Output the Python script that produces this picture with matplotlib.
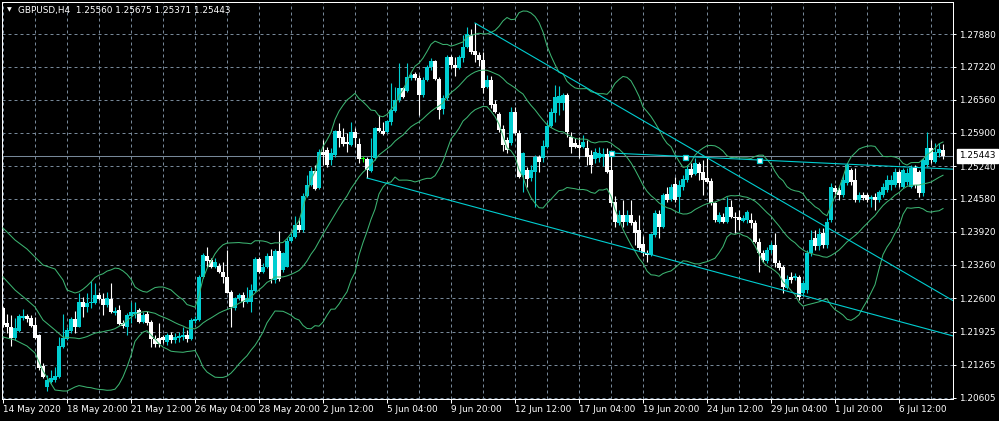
import numpy as np
import pandas as pd
import matplotlib
matplotlib.use('Agg')
import matplotlib.pyplot as plt
import matplotlib.transforms as mtransforms

# GBPUSD H4 candles, oldest first
opens = [
    1.2240, 1.2210, 1.2202, 1.2180, 1.2194, 1.2220, 1.2224, 1.2220, 1.2206, 1.2186,
    1.2124, 1.2082, 1.2092, 1.2096, 1.2102, 1.2162, 1.2178, 1.2194, 1.2218, 1.2202,
    1.2252, 1.2242, 1.2250, 1.2250, 1.2266, 1.2258, 1.2246, 1.2258, 1.2230, 1.2236,
    1.2210, 1.2202, 1.2224, 1.2228, 1.2236, 1.2212, 1.2228, 1.2212, 1.2178, 1.2180,
    1.2182, 1.2172, 1.2186, 1.2176, 1.2180, 1.2182, 1.2186, 1.2178, 1.2214, 1.2216,
    1.2302, 1.2344, 1.2336, 1.2322, 1.2324, 1.2312, 1.2302, 1.2272, 1.2240, 1.2260,
    1.2266, 1.2252, 1.2252, 1.2274, 1.2338, 1.2312, 1.2322, 1.2344, 1.2296, 1.2354,
    1.2316, 1.2322, 1.2374, 1.2382, 1.2406, 1.2396, 1.2464, 1.2486, 1.2514, 1.2480,
    1.2552, 1.2556, 1.2536, 1.2546, 1.2594, 1.2582, 1.2572, 1.2566, 1.2592, 1.2568,
    1.2538, 1.2538, 1.2514, 1.2540, 1.2600, 1.2594, 1.2592, 1.2612, 1.2634, 1.2656,
    1.2680, 1.2674, 1.2700, 1.2708, 1.2700, 1.2666, 1.2696, 1.2722, 1.2734, 1.2698,
    1.2638, 1.2660, 1.2742, 1.2726, 1.2720, 1.2740, 1.2762, 1.2786, 1.2754, 1.2746,
    1.2736, 1.2682, 1.2696, 1.2648, 1.2628, 1.2598, 1.2576, 1.2570, 1.2632, 1.2590,
    1.2506, 1.2516, 1.2500, 1.2512, 1.2542, 1.2540, 1.2562, 1.2604, 1.2630, 1.2650,
    1.2650, 1.2666, 1.2582, 1.2570, 1.2566, 1.2562, 1.2560, 1.2546, 1.2538, 1.2540,
    1.2542, 1.2548, 1.2516, 1.2452, 1.2410, 1.2426, 1.2412, 1.2426, 1.2412, 1.2396,
    1.2368, 1.2350, 1.2346, 1.2386, 1.2428, 1.2402, 1.2468, 1.2458, 1.2488, 1.2462,
    1.2482, 1.2496, 1.2518, 1.2508, 1.2528, 1.2512, 1.2500, 1.2494, 1.2450, 1.2412,
    1.2422, 1.2412, 1.2442, 1.2422, 1.2422, 1.2414, 1.2416, 1.2416, 1.2410, 1.2372,
    1.2350, 1.2334, 1.2356, 1.2366, 1.2330, 1.2322, 1.2280, 1.2302, 1.2300, 1.2302,
    1.2270, 1.2276, 1.2350, 1.2380, 1.2364, 1.2390, 1.2366, 1.2416, 1.2480, 1.2476,
    1.2466, 1.2490, 1.2516, 1.2496, 1.2456, 1.2466, 1.2466, 1.2458, 1.2462, 1.2456,
    1.2466, 1.2476, 1.2486, 1.2486, 1.2512, 1.2482, 1.2492, 1.2482, 1.2520, 1.2512,
    1.2470, 1.2526, 1.2560, 1.2532, 1.2550, 1.25560,
]
highs = [
    1.2242, 1.2228, 1.2226, 1.2220, 1.2228, 1.2238, 1.2228, 1.2226, 1.2222, 1.2188,
    1.2130, 1.2106, 1.2116, 1.2122, 1.2182, 1.2228, 1.2202, 1.2222, 1.2234, 1.2270,
    1.2262, 1.2270, 1.2294, 1.2290, 1.2272, 1.2270, 1.2272, 1.2290, 1.2242, 1.2246,
    1.2216, 1.2230, 1.2252, 1.2252, 1.2240, 1.2232, 1.2234, 1.2216, 1.2186, 1.2210,
    1.2186, 1.2190, 1.2192, 1.2190, 1.2192, 1.2202, 1.2196, 1.2220, 1.2224, 1.2306,
    1.2350, 1.2362, 1.2340, 1.2340, 1.2330, 1.2332, 1.2356, 1.2276, 1.2262, 1.2270,
    1.2272, 1.2282, 1.2288, 1.2342, 1.2342, 1.2330, 1.2350, 1.2358, 1.2358, 1.2394,
    1.2352, 1.2380, 1.2390, 1.2424, 1.2420, 1.2470, 1.2506, 1.2522, 1.2526, 1.2558,
    1.2576, 1.2562, 1.2560, 1.2596, 1.2610, 1.2600, 1.2590, 1.2612, 1.2600, 1.2580,
    1.2544, 1.2542, 1.2580, 1.2602, 1.2626, 1.2612, 1.2616, 1.2690, 1.2682, 1.2730,
    1.2682, 1.2730, 1.2710, 1.2712, 1.2706, 1.2702, 1.2726, 1.2740, 1.2736, 1.2702,
    1.2666, 1.2746, 1.2746, 1.2742, 1.2746, 1.2786, 1.2802, 1.2798, 1.2810, 1.2752,
    1.2752, 1.2706, 1.2704, 1.2656, 1.2632, 1.2606, 1.2582, 1.2642, 1.2642, 1.2596,
    1.2552, 1.2522, 1.2526, 1.2546, 1.2546, 1.2576, 1.2612, 1.2640, 1.2686, 1.2684,
    1.2670, 1.2670, 1.2592, 1.2580, 1.2582, 1.2586, 1.2576, 1.2556, 1.2560, 1.2562,
    1.2560, 1.2560, 1.2550, 1.2464, 1.2436, 1.2456, 1.2436, 1.2456, 1.2416, 1.2426,
    1.2384, 1.2356, 1.2390, 1.2436, 1.2436, 1.2470, 1.2482, 1.2488, 1.2502, 1.2496,
    1.2506, 1.2526, 1.2530, 1.2540, 1.2532, 1.2536, 1.2540, 1.2500, 1.2452, 1.2432,
    1.2430, 1.2462, 1.2456, 1.2432, 1.2436, 1.2426, 1.2436, 1.2430, 1.2416, 1.2380,
    1.2356, 1.2362, 1.2372, 1.2390, 1.2336, 1.2326, 1.2306, 1.2312, 1.2310, 1.2306,
    1.2296, 1.2356, 1.2396, 1.2396, 1.2400, 1.2400, 1.2420, 1.2490, 1.2486, 1.2482,
    1.2506, 1.2530, 1.2520, 1.2520, 1.2472, 1.2472, 1.2470, 1.2466, 1.2470, 1.2476,
    1.2490, 1.2506, 1.2506, 1.2520, 1.2516, 1.2520, 1.2520, 1.2526, 1.2526, 1.2516,
    1.2540, 1.2592, 1.2576, 1.2570, 1.2570, 1.25675,
]
lows = [
    1.2202, 1.2190, 1.2164, 1.2176, 1.2192, 1.2216, 1.2212, 1.2202, 1.2178, 1.2116,
    1.2100, 1.2074, 1.2090, 1.2092, 1.2100, 1.2160, 1.2176, 1.2190, 1.2190, 1.2202,
    1.2222, 1.2232, 1.2240, 1.2248, 1.2256, 1.2226, 1.2242, 1.2230, 1.2226, 1.2206,
    1.2200, 1.2186, 1.2210, 1.2220, 1.2210, 1.2210, 1.2206, 1.2162, 1.2162, 1.2162,
    1.2170, 1.2166, 1.2170, 1.2170, 1.2172, 1.2176, 1.2172, 1.2176, 1.2210, 1.2214,
    1.2300, 1.2322, 1.2320, 1.2320, 1.2310, 1.2290, 1.2270, 1.2202, 1.2236, 1.2256,
    1.2242, 1.2250, 1.2232, 1.2272, 1.2310, 1.2310, 1.2320, 1.2290, 1.2290, 1.2294,
    1.2312, 1.2322, 1.2372, 1.2380, 1.2392, 1.2392, 1.2462, 1.2484, 1.2476, 1.2478,
    1.2526, 1.2522, 1.2526, 1.2542, 1.2562, 1.2564, 1.2552, 1.2564, 1.2562, 1.2530,
    1.2532, 1.2500, 1.2512, 1.2536, 1.2592, 1.2586, 1.2590, 1.2606, 1.2632, 1.2652,
    1.2660, 1.2672, 1.2696, 1.2696, 1.2626, 1.2662, 1.2694, 1.2716, 1.2696, 1.2618,
    1.2628, 1.2656, 1.2720, 1.2704, 1.2718, 1.2732, 1.2760, 1.2748, 1.2732, 1.2724,
    1.2670, 1.2680, 1.2640, 1.2630, 1.2592, 1.2554, 1.2550, 1.2566, 1.2586, 1.2500,
    1.2472, 1.2482, 1.2494, 1.2442, 1.2512, 1.2532, 1.2560, 1.2602, 1.2612, 1.2626,
    1.2636, 1.2582, 1.2550, 1.2560, 1.2540, 1.2560, 1.2526, 1.2510, 1.2530, 1.2532,
    1.2524, 1.2510, 1.2444, 1.2402, 1.2406, 1.2402, 1.2406, 1.2406, 1.2366, 1.2356,
    1.2344, 1.2332, 1.2344, 1.2382, 1.2380, 1.2400, 1.2452, 1.2454, 1.2452, 1.2432,
    1.2476, 1.2492, 1.2502, 1.2506, 1.2496, 1.2466, 1.2490, 1.2446, 1.2412, 1.2410,
    1.2410, 1.2410, 1.2420, 1.2390, 1.2396, 1.2412, 1.2410, 1.2400, 1.2370, 1.2312,
    1.2332, 1.2330, 1.2350, 1.2322, 1.2316, 1.2270, 1.2278, 1.2290, 1.2296, 1.2256,
    1.2266, 1.2270, 1.2344, 1.2356, 1.2356, 1.2360, 1.2360, 1.2412, 1.2462, 1.2456,
    1.2462, 1.2486, 1.2486, 1.2452, 1.2452, 1.2456, 1.2452, 1.2442, 1.2436, 1.2452,
    1.2462, 1.2472, 1.2476, 1.2482, 1.2482, 1.2480, 1.2486, 1.2480, 1.2480, 1.2462,
    1.2464, 1.2522, 1.2530, 1.2530, 1.2542, 1.25371,
]
closes = [
    1.2206, 1.2202, 1.2180, 1.2200, 1.2224, 1.2224, 1.2218, 1.2204, 1.2180, 1.2120,
    1.2102, 1.2096, 1.2100, 1.2104, 1.2164, 1.2180, 1.2196, 1.2218, 1.2202, 1.2252,
    1.2242, 1.2250, 1.2252, 1.2266, 1.2258, 1.2246, 1.2260, 1.2232, 1.2234, 1.2208,
    1.2204, 1.2226, 1.2232, 1.2232, 1.2212, 1.2226, 1.2210, 1.2178, 1.2168, 1.2168,
    1.2176, 1.2186, 1.2176, 1.2182, 1.2184, 1.2186, 1.2178, 1.2216, 1.2218, 1.2302,
    1.2346, 1.2334, 1.2322, 1.2332, 1.2312, 1.2302, 1.2270, 1.2242, 1.2260, 1.2266,
    1.2252, 1.2260, 1.2276, 1.2338, 1.2312, 1.2322, 1.2344, 1.2298, 1.2354, 1.2298,
    1.2350, 1.2374, 1.2382, 1.2406, 1.2396, 1.2464, 1.2486, 1.2514, 1.2478, 1.2552,
    1.2546, 1.2526, 1.2550, 1.2594, 1.2580, 1.2568, 1.2568, 1.2592, 1.2580, 1.2538,
    1.2538, 1.2516, 1.2538, 1.2600, 1.2594, 1.2588, 1.2614, 1.2636, 1.2656, 1.2680,
    1.2662, 1.2702, 1.2706, 1.2700, 1.2666, 1.2696, 1.2722, 1.2734, 1.2698, 1.2636,
    1.2660, 1.2742, 1.2726, 1.2720, 1.2742, 1.2762, 1.2788, 1.2752, 1.2746, 1.2736,
    1.2680, 1.2696, 1.2646, 1.2632, 1.2596, 1.2566, 1.2556, 1.2632, 1.2590, 1.2502,
    1.2550, 1.2498, 1.2516, 1.2542, 1.2532, 1.2564, 1.2604, 1.2632, 1.2662, 1.2664,
    1.2666, 1.2592, 1.2562, 1.2562, 1.2560, 1.2572, 1.2542, 1.2526, 1.2552, 1.2550,
    1.2548, 1.2512, 1.2450, 1.2412, 1.2426, 1.2412, 1.2426, 1.2410, 1.2390, 1.2360,
    1.2350, 1.2346, 1.2388, 1.2430, 1.2402, 1.2466, 1.2456, 1.2482, 1.2456, 1.2486,
    1.2498, 1.2518, 1.2506, 1.2530, 1.2510, 1.2496, 1.2492, 1.2450, 1.2416, 1.2426,
    1.2412, 1.2442, 1.2422, 1.2420, 1.2416, 1.2420, 1.2432, 1.2410, 1.2372, 1.2350,
    1.2336, 1.2356, 1.2366, 1.2330, 1.2320, 1.2282, 1.2298, 1.2296, 1.2304, 1.2262,
    1.2290, 1.2350, 1.2376, 1.2364, 1.2388, 1.2366, 1.2412, 1.2482, 1.2472, 1.2466,
    1.2496, 1.2526, 1.2492, 1.2456, 1.2466, 1.2460, 1.2456, 1.2462, 1.2456, 1.2472,
    1.2482, 1.2496, 1.2496, 1.2512, 1.2490, 1.2516, 1.2510, 1.2520, 1.2486, 1.2470,
    1.2536, 1.2560, 1.2536, 1.2552, 1.2558, 1.25443,
]

# Bollinger band readings for the first bars on screen (older closes are off-chart)
band_head_bars = [0, 3, 6, 8, 10, 13, 15, 16, 18]
upper_head = [1.2400, 1.2376, 1.2358, 1.2342, 1.2326, 1.2318, 1.2296, 1.2276, 1.2270]
middle_head = [1.2302, 1.2276, 1.2256, 1.2242, 1.2216, 1.2196, 1.2182, 1.2181, 1.2180]
lower_head = [1.2182, 1.2176, 1.2164, 1.2150, 1.2114, 1.2076, 1.2074, 1.2074, 1.2082]

date_labels = ['14 May 2020', '18 May 20:00', '21 May 12:00', '26 May 04:00',
               '28 May 20:00', '2 Jun 12:00', '5 Jun 04:00', '9 Jun 20:00',
               '12 Jun 12:00', '17 Jun 04:00', '19 Jun 20:00', '24 Jun 12:00',
               '29 Jun 04:00', '1 Jul 20:00', '6 Jul 12:00']
price_labels = ['1.20605', '1.21265', '1.21925', '1.22600', '1.23260', '1.23920',
                '1.24580', '1.25240', '1.25900', '1.26560', '1.27220', '1.27880']

# trend lines as (bar, price) anchors, drawn as rays to the right
trend_upper = [(118, 1.2810), (200, 1.2429)]
trend_lower = [(91, 1.2500), (200, 1.2265)]
trend_flat = [(152, 1.2550), (189, 1.2536)]

bid = 1.25443
title = 'GBPUSD,H4  1.25560 1.25675 1.25371 1.25443'

BULL = '#00CED1'
BEAR = 'white'
DOJI = 'lime'
BAND = '#3CB371'
GRID = '#778899'
FS = 6.4

plt.rcParams['font.family'] = ['DejaVu Sans']

n = len(opens)
x = np.arange(n)
o = np.array(opens)
c = np.array(closes)

fig = plt.figure(figsize=(9.99, 4.21), dpi=100, facecolor='black')
ax = fig.add_axes([2 / 999, 22 / 421, 951 / 999, 397 / 421], facecolor='black')

# candles
colors = [DOJI if cc == oo else (BULL if cc > oo else BEAR) for oo, cc in zip(opens, closes)]
ax.vlines(x, lows, highs, colors=colors, lw=0.8, zorder=3)
body_low = np.minimum(o, c)
body_h = np.maximum(np.abs(c - o), 0.0001)
ax.bar(x, body_h, 0.82, bottom=body_low, color=colors, lw=0, zorder=4, antialiased=False)

# Bollinger bands (20, 2)
cs = pd.Series(closes)
mid = cs.rolling(20).mean()
sd = cs.rolling(20).std(ddof=0)
bx = band_head_bars + list(range(19, n))
ax.plot(bx, list(upper_head) + list((mid + 2 * sd)[19:]), color=BAND, lw=0.75, zorder=5)
ax.plot(bx, list(middle_head) + list(mid[19:]), color=BAND, lw=0.75, zorder=5)
ax.plot(bx, list(lower_head) + list((mid - 2 * sd)[19:]), color=BAND, lw=0.75, zorder=5)


def ray(p1, p2, x_end=245):
    slope = (p2[1] - p1[1]) / (p2[0] - p1[0])
    return [p1[0], x_end], [p1[1], p1[1] + slope * (x_end - p1[0])]


for tl in (trend_upper, trend_lower, trend_flat):
    xs, ys = ray(*tl)
    ax.plot(xs, ys, color=BULL, lw=0.8, zorder=6)

# selected trend line handles
(fx1, fy1), (fx2, fy2) = trend_flat
ax.plot([fx1, (fx1 + fx2) / 2, fx2], [fy1, (fy1 + fy2) / 2, fy2], 's', ms=3.6,
        mfc='white', mec=BULL, mew=0.9, zorder=7)

# bid line
ax.axhline(bid, color=GRID, lw=0.75, zorder=1)

ax.set_xlim(-0.25, 237.5)
ax.set_ylim(1.2058, 1.2852)

price_ticks = [float(p) for p in price_labels]
ax.yaxis.tick_right()
ax.set_yticks(price_ticks)
ax.set_yticklabels(price_labels)
ax.set_xticks(np.arange(0, 16 * len(date_labels), 16))
ax.set_xticklabels(date_labels)
ax.set_xticks(np.arange(8, n, 16), minor=True)
for lbl in ax.get_xticklabels():
    lbl.set_ha('left')

ax.tick_params(axis='x', which='major', colors='white', labelcolor='white',
               length=2.9, width=0.72, pad=1.2, labelsize=FS)
ax.tick_params(axis='x', which='minor', length=0)
ax.tick_params(axis='y', colors='white', labelcolor='white', length=2.2, width=0.72,
               pad=2.2, labelsize=FS)
ax.grid(True, which='both', color=GRID, ls=(0, (3, 3)), lw=0.72, zorder=0)
ax.set_axisbelow(True)
for sp in ax.spines.values():
    sp.set_color('white')
    sp.set_linewidth(0.72)

# bid price tag
trans = mtransforms.blended_transform_factory(ax.transAxes, ax.transData)
ax.text(1.0063, bid, '1.25443', transform=trans, ha='left', va='center', fontsize=FS,
        color='black', bbox=dict(boxstyle='square,pad=0.25', fc='white', ec='white'),
        zorder=10, clip_on=False)

fig.text(7 / 999, 1 - 10 / 421, '\u25bc', color='white', fontsize=4.5, ha='left', va='center')
fig.text(18 / 999, 1 - 10 / 421, title, color='white', fontsize=FS, ha='left', va='center')

fig.savefig('out.png', dpi=100, facecolor='black')
